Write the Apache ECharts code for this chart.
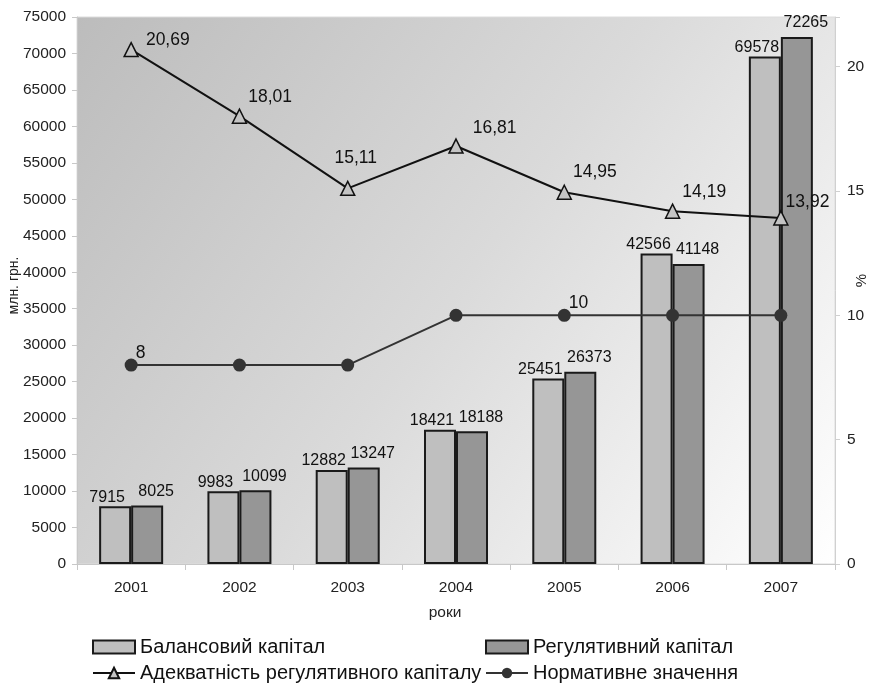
<!DOCTYPE html>
<html>
<head>
<meta charset="utf-8">
<script src="https://cdn.jsdelivr.net/npm/echarts@6/dist/echarts.min.js"></script>
<style>
html,body{margin:0;padding:0;background:#fff;}
#chart{width:872px;height:683px;}
</style>
</head>
<body>
<div id="chart"></div>
<script>
var years = ['2001','2002','2003','2004','2005','2006','2007'];
var balanceCapital = [7915, 9983, 12882, 18421, 25451, 42566, 69578];
var regulatoryCapital = [8025, 10099, 13247, 18188, 26373, 41148, 72265];
var adequacy = [20.69, 18.01, 15.11, 16.81, 14.95, 14.19, 13.92];
var normative = [8, 8, 8, 10, 10, 10, 10];
var normativeLabelIdx = [0, 4];
var adequacyLabelShift = [[6,-9],[0,-19],[-22,-30],[8,-18],[0,-20],[1,-19],[-4,-16]];

var FONT = '"Liberation Sans", Arial, sans-serif';
var names = ['Балансовий капітал','Регулятивний капітал','Адекватність регулятивного капіталу','Нормативне значення'];

function comma(v){ return v.toFixed(2).replace('.', ','); }

var chart = echarts.init(document.getElementById('chart'), null, {renderer:'canvas'});

var legendBase = function(name, left, top, icon){
  var o = {
    data:[name], left:left, top:top, itemWidth:42, itemHeight:13, itemGap:0,
    padding:0, selectedMode:false,
    textStyle:{fontFamily:FONT, fontSize:20, color:'#111'}
  };
  if (icon) o.icon = icon;
  return o;
};

chart.setOption({
  animation:false,
  backgroundColor:'#ffffff',
  textStyle:{fontFamily:FONT},
  grid:{
    left:77, right:37, top:17, bottom:119, show:true,
    outerBoundsMode:'none', containLabel:false,
    backgroundColor:new echarts.graphic.LinearGradient(0,0,1,1,[
      {offset:0, color:'#bcbcbc'},
      {offset:0.5, color:'#dadada'},
      {offset:1, color:'#ffffff'}
    ]),
    borderColor:'#dcdcdc', borderWidth:1
  },
  legend:[
    legendBase(names[0], 92, 637, 'rect'),
    legendBase(names[1], 485, 637, 'rect'),
    legendBase(names[2], 92, 663),
    legendBase(names[3], 485, 663)
  ],
  xAxis:{
    type:'category', data:years,
    name:'роки', nameLocation:'middle', nameGap:41, nameMoveOverlap:false,
    nameTextStyle:{fontFamily:FONT, fontSize:15.5, color:'#222', padding:[0,22,0,0]},
    axisLine:{lineStyle:{color:'#c8c8c8', width:1}},
    axisTick:{show:true, length:6, lineStyle:{color:'#c8c8c8'}},
    axisLabel:{fontFamily:FONT, fontSize:15.5, color:'#222', margin:16}
  },
  yAxis:[
    {
      type:'value', min:0, max:75000, interval:5000, position:'left',
      name:'млн. грн.', nameLocation:'middle', nameGap:56, nameRotate:90, nameMoveOverlap:false,
      nameTextStyle:{fontFamily:FONT, fontSize:14, color:'#222', padding:[0,0,0,10]},
      axisLine:{show:true, lineStyle:{color:'#c8c8c8'}},
      axisTick:{show:true, length:5, lineStyle:{color:'#c8c8c8'}},
      splitLine:{show:false},
      axisLabel:{fontFamily:FONT, fontSize:15.5, color:'#222', margin:11,
        formatter:function(v){ return String(v); }}
    },
    {
      type:'value', min:0, max:22, interval:5, position:'right',
      name:'%', nameLocation:'middle', nameGap:19, nameRotate:90, nameMoveOverlap:false,
      nameTextStyle:{fontFamily:FONT, fontSize:15, color:'#222', padding:[0,0,0,20]},
      axisLine:{show:true, lineStyle:{color:'#d0d0d0'}},
      axisTick:{show:true, length:5, lineStyle:{color:'#d0d0d0'}},
      splitLine:{show:false},
      axisLabel:{fontFamily:FONT, fontSize:15.5, color:'#222', margin:12,
        formatter:function(v){ return (v % 5 === 0) ? String(v) : ''; }}
    }
  ],
  series:[
    {
      name:names[0], type:'bar', yAxisIndex:0, data:balanceCapital,
      barWidth:32, barGap:'0%',
      itemStyle:{color:'#bfbfbf', borderColor:'#1a1a1a', borderWidth:2},
      label:{show:true, position:'top', distance:1, offset:[-8,0],
        fontFamily:FONT, fontSize:16, color:'#111'}
    },
    {
      name:names[1], type:'bar', yAxisIndex:0, data:regulatoryCapital,
      barWidth:32, barGap:'0%',
      itemStyle:{color:'#969696', borderColor:'#1a1a1a', borderWidth:2},
      label:{show:true, position:'top', distance:6, offset:[9,0],
        fontFamily:FONT, fontSize:16, color:'#111'}
    },
    {
      name:names[2], type:'line', yAxisIndex:1,
      data:adequacy.map(function(v,i){
        return {value:v, label:{offset:adequacyLabelShift[i]}};
      }),
      symbol:'triangle', symbolSize:14,
      lineStyle:{color:'#111', width:2},
      itemStyle:{color:'#c4c4c4', borderColor:'#111', borderWidth:1.5},
      label:{show:true, position:'right', distance:1,
        fontFamily:FONT, fontSize:17.5, color:'#111',
        formatter:function(p){ return comma(p.value); }},
      z:5
    },
    {
      name:names[3], type:'line', yAxisIndex:1,
      data:normative.map(function(v,i){
        return {value:v, label:{show: normativeLabelIdx.indexOf(i) >= 0}};
      }),
      symbol:'circle', symbolSize:13,
      lineStyle:{color:'#333', width:2},
      itemStyle:{color:'#333', borderColor:'#333', borderWidth:0},
      label:{show:false, position:'right', distance:0, offset:[-2,-12],
        fontFamily:FONT, fontSize:17.5, color:'#111'},
      z:5
    }
  ]
});
</script>
</body>
</html>
